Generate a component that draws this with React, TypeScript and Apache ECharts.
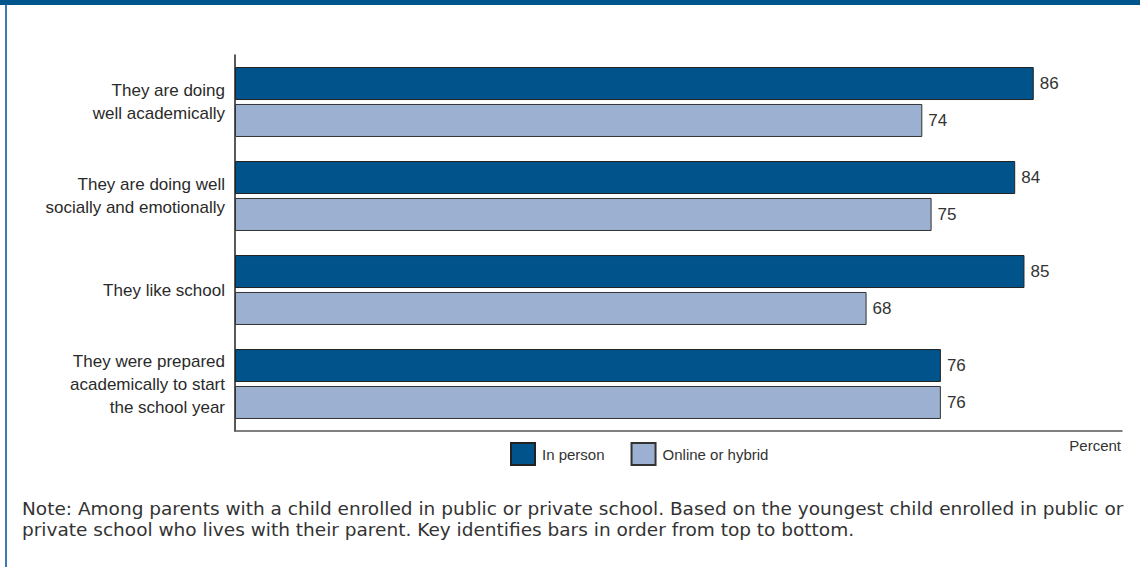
import React, { useEffect, useRef } from "react";
import * as echarts from "echarts";

const categories = [
  "They are doing\nwell academically",
  "They are doing well\nsocially and emotionally",
  "They like school",
  "They were prepared\nacademically to start\nthe school year",
];
const inPerson = [86, 84, 85, 76];
const onlineHybrid = [74, 75, 68, 76];
const seriesNames = ["In person", "Online or hybrid"];
const noteText =
  "Note: Among parents with a child enrolled in public or private school. Based on the youngest child enrolled in public or\nprivate school who lives with their parent. Key identifies bars in order from top to bottom.";

const DARK = "#00538b";
const LIGHT = "#9cb1d1";
const FONT = "'Liberation Sans', Arial, sans-serif";
const NOTE_FONT = "'DejaVu Sans', Verdana, sans-serif";

export default function App() {
  const ref = useRef<HTMLDivElement>(null);
  useEffect(() => {
    const chart = echarts.init(ref.current!, null, { renderer: "svg" });
    const labelStyle = {
      show: true,
      position: "right" as const,
      distance: 6,
      color: "#333",
      fontSize: 17,
      fontFamily: FONT,
    };
    chart.setOption({
      animation: false,
      backgroundColor: "#fff",
      grid: { left: 235, right: 18, top: 55, height: 376, containLabel: false },
      xAxis: {
        type: "value",
        min: 0,
        max: 95.5,
        axisLine: { show: true, lineStyle: { color: "#555", width: 1.5 } },
        axisTick: { show: false },
        axisLabel: { show: false },
        splitLine: { show: false },
      },
      yAxis: {
        type: "category",
        data: categories,
        inverse: true,
        axisLine: { show: true, lineStyle: { color: "#222", width: 1.5 } },
        axisTick: { show: false },
        axisLabel: {
          margin: 10,
          fontSize: 17,
          lineHeight: 23,
          color: "#2a2a2a",
          fontFamily: FONT,
          align: "right",
        },
      },
      legend: {
        left: 505,
        top: 437,
        itemWidth: 24,
        itemHeight: 22,
        itemGap: 26,
        icon: "rect",
        textStyle: { fontSize: 15, color: "#333", fontFamily: FONT, padding: [0, 0, 0, 2] },
        data: seriesNames,
      },
      series: [
        {
          name: seriesNames[0],
          type: "bar",
          data: inPerson,
          barWidth: 33,
          barGap: "12%",
          itemStyle: { color: DARK, borderColor: "#222", borderWidth: 1 },
          label: labelStyle,
        },
        {
          name: seriesNames[1],
          type: "bar",
          data: onlineHybrid,
          barWidth: 33,
          itemStyle: { color: LIGHT, borderColor: "#333", borderWidth: 1 },
          label: labelStyle,
        },
      ],
      graphic: [
        { type: "rect", shape: { x: 0, y: 0, width: 1140, height: 5 }, style: { fill: "#00558c" } },
        { type: "rect", shape: { x: 5, y: 5, width: 2, height: 562 }, style: { fill: "#3d7ab5" } },
        {
          type: "text",
          right: 19,
          top: 438,
          style: { text: "Percent", fill: "#333", font: `15px ${FONT}` },
        },
        {
          type: "text",
          left: 22,
          top: 498,
          style: {
            text: noteText,
            fill: "#333",
            font: `18.5px ${NOTE_FONT}`,
            lineHeight: 21,
          },
        },
      ],
    });
    return () => chart.dispose();
  }, []);
  return (
    <div
      ref={ref}
      style={{ position: "fixed", left: 0, top: 0, width: 1140, height: 567 }}
    />
  );
}
